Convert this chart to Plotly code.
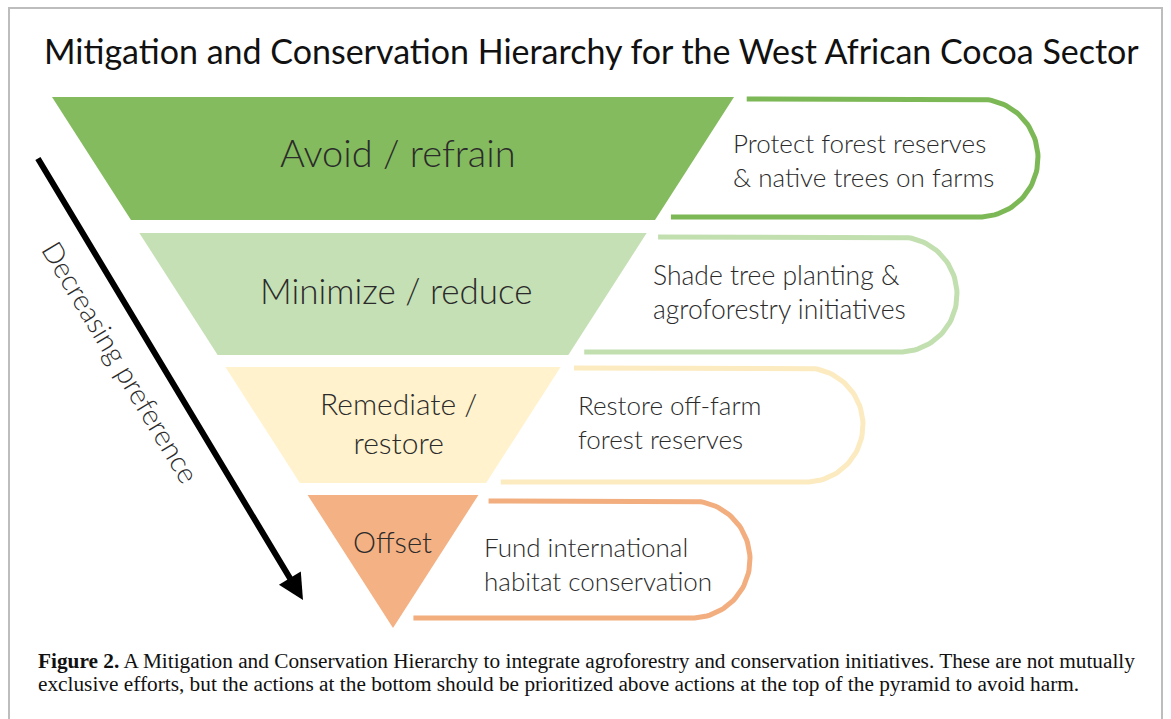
import numpy as np
import plotly.graph_objects as go

# ---------------- data ----------------
title = "Mitigation and Conservation Hierarchy for the West African Cocoa Sector"
tiers = ["Avoid / refrain", "Minimize / reduce", "Remediate /<br>restore", "Offset"]
actions = [
    "Protect forest reserves<br>& native trees on farms",
    "Shade tree planting &<br>agroforestry initiatives",
    "Restore off-farm<br>forest reserves",
    "Fund international<br>habitat conservation",
]
arrow_label = "Decreasing preference"
caption_lines = [
    "<b>Figure 2.</b> A Mitigation and Conservation Hierarchy to integrate agroforestry and conservation initiatives. These are not mutually",
    "exclusive efforts, but the actions at the bottom should be prioritized above actions at the top of the pyramid to avoid harm.",
]

# ---------------- styles ----------------
tier_colors = ["#84BB5E", "#C5E0B4", "#FFF2CC", "#F4B183"]
outline_colors = ["#7DB856", "#C2DFB0", "#FCEBC0", "#F2AE7E"]
sans = "Lato"
serif = "Liberation Serif"
text_color = "#2b2b2b"
light = 300

# ---------------- geometry (pixels) ----------------
W, H = 1171, 719
cx, top_y, apex_y, top_half = 393, 97, 628, 341
slope = top_half / (apex_y - top_y)
band_tops = [97, 233, 367, 495]
band_bots = [220, 355, 483, 628]
box_tops = [99, 237, 368, 501]
box_bots = [217, 352, 482, 618]
box_right = [1038, 957, 863, 750]
gap = 14
tier_label_x = [398, 396, 398, 392]
tier_label_y = [152, 290, 422, 541]
tier_font = [38, 35, 30, 29]
action_x = [731, 651, 576, 482]
action_y = [160, 292, 422, 564]
action_font = [26, 26.5, 26, 26]


def hw(y):
    return max(apex_y - y, 0) * slope


fig = go.Figure()

for i in range(len(tiers)):
    t, b = band_tops[i], band_bots[i]
    xs = [cx - hw(t), cx + hw(t), cx + hw(b), cx - hw(b), cx - hw(t)]
    ys = [t, t, b, b, t]
    fig.add_trace(go.Scatter(x=xs, y=ys, fill="toself", fillcolor=tier_colors[i],
                             mode="lines", line=dict(width=0, color=tier_colors[i]),
                             hoverinfo="skip", showlegend=False))
    # callout outline
    bt, bb = box_tops[i], box_bots[i]
    r = (bb - bt) / 2
    ccx, ccy = box_right[i] - r, (bt + bb) / 2
    th = np.linspace(-np.pi / 2, np.pi / 2, 60)
    ox = [cx + hw(bt) + gap] + list(ccx + r * np.cos(th)) + [cx + hw(bb) + gap]
    oy = [bt] + list(ccy + r * np.sin(th)) + [bb]
    fig.add_trace(go.Scatter(x=ox, y=oy, mode="lines",
                             line=dict(width=5, color=outline_colors[i]),
                             hoverinfo="skip", showlegend=False))
    fig.add_annotation(x=tier_label_x[i], y=tier_label_y[i], text=tiers[i], showarrow=False,
                       xanchor="center", yanchor="middle",
                       font=dict(family=sans, size=tier_font[i], color=text_color, weight=light))
    fig.add_annotation(x=action_x[i], y=action_y[i], text=actions[i], showarrow=False,
                       xanchor="left", yanchor="middle", align="left",
                       font=dict(family=sans, size=action_font[i], color=text_color, weight=light))

# title
fig.add_annotation(x=591, y=50, text=title, showarrow=False, xanchor="center",
                   yanchor="middle", font=dict(family=sans, size=34, color="#111111"))

# arrow
fig.add_annotation(x=303, y=600, ax=37, ay=157, axref="x", ayref="y", xref="x", yref="y",
                   showarrow=True, arrowhead=2, arrowsize=0.85, arrowwidth=6,
                   arrowcolor="#000000", text="")
fig.add_annotation(x=121, y=362, text=arrow_label, textangle=59, showarrow=False,
                   xanchor="center", yanchor="middle",
                   font=dict(family=sans, size=28.5, color=text_color, weight=light))

# caption
for k, line in enumerate(caption_lines):
    fig.add_annotation(x=36, y=661 + 23 * k, text=line, showarrow=False,
                       xanchor="left", yanchor="middle",
                       font=dict(family=serif, size=21.3, color="#111111"))

# border
fig.add_shape(type="rect", x0=9, y0=8, x1=1162, y1=740, line=dict(color="#BDBDBD", width=2),
              layer="above")

fig.update_layout(width=W, height=H, margin=dict(l=0, r=0, t=0, b=0),
                  paper_bgcolor="white", plot_bgcolor="white",
                  xaxis=dict(range=[0, W], visible=False, fixedrange=True),
                  yaxis=dict(range=[H, 0], visible=False, fixedrange=True),
                  showlegend=False)

fig.write_html("out.html", config={"displayModeBar": False},
               post_script="document.body.style.margin='0';document.body.style.overflow='hidden';")
